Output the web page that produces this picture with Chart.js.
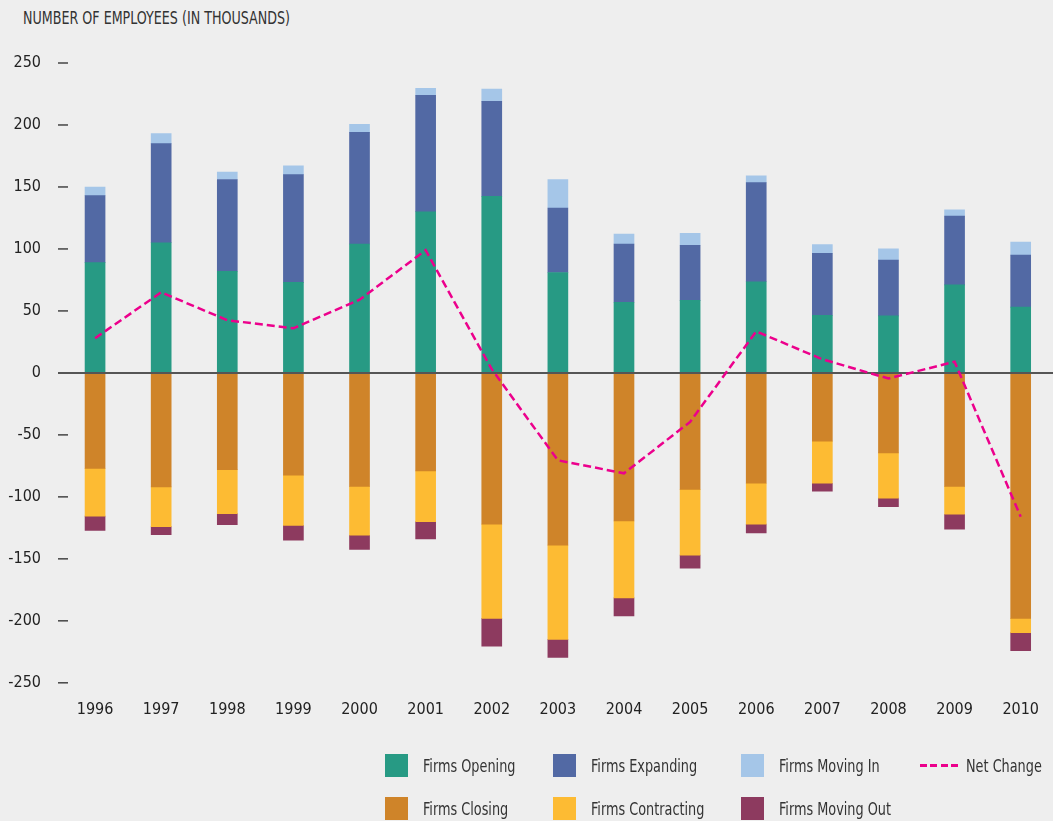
<!DOCTYPE html>
<html>
<head>
<meta charset="utf-8">
<script src="https://cdn.jsdelivr.net/npm/chart.js@4/dist/chart.umd.min.js"></script>
<style>
  html, body { margin: 0; padding: 0; background: #eeeeee; overflow: hidden; }
  body { width: 1053px; height: 821px; position: relative; font-family: "DejaVu Sans Condensed", "Liberation Sans", sans-serif; color: #333; }
  #title { position: absolute; left: 23px; top: 7px; font-size: 17px; line-height: 22px; color: #333; white-space: nowrap; transform: scaleX(0.83); transform-origin: left center; }
  #wrap { position: absolute; left: 0; top: 0; width: 1056px; height: 821px; }
  #legend { position: absolute; left: 385px; top: 744px; display: grid; grid-template-columns: 168px 188px 179px auto; grid-auto-rows: 43px; font-size: 17px; color: #333; }
  .item { display: flex; align-items: center; white-space: nowrap; }
  .item span.txt { display: inline-block; transform: scaleX(0.84); transform-origin: left center; }
  .box { width: 23px; height: 23px; margin-right: 15px; flex: none; }
  .dash { width: 38px; height: 3px; margin-right: 8px; flex: none; }
</style>
</head>
<body>
<div id="title">NUMBER OF EMPLOYEES (IN THOUSANDS)</div>
<div id="wrap"><canvas id="myChart"></canvas></div>
<div id="legend"></div>
<script>
// values in thousands
var years = ["1996", "1997", "1998", "1999", "2000", "2001", "2002", "2003", "2004", "2005", "2006", "2007", "2008", "2009", "2010"];
var opening = [89, 105, 82, 73, 104, 130, 142.5, 81, 57, 58.5, 73.5, 46.5, 46, 71, 53];
var expanding = [54, 80, 74, 87, 90, 94, 76.5, 52, 47, 44.5, 80, 50, 45, 55.5, 42];
var movingIn = [7, 8, 6, 7, 6.5, 5.5, 10, 23, 8, 9.5, 5.5, 7, 9, 5, 10.5];
var closing = [-77, -92, -78, -82.5, -91.5, -79, -122, -139, -119.5, -94, -89, -55, -64.5, -91.5, -198];
var contracting = [-38.5, -32, -35.5, -40.5, -39.5, -41, -76, -76, -62, -53, -33, -34, -36.5, -22.5, -11.5];
var movingOut = [-11.5, -6.5, -9, -12, -11.5, -14, -22.5, -14.5, -14.5, -10.5, -7, -6.5, -7, -12, -14.5];
var netChange = [28, 65, 42.5, 36, 59, 99, 3, -70.5, -81, -39.5, 33.5, 11, -4.5, 9, -116];
var yTicks = [-250, -200, -150, -100, -50, 0, 50, 100, 150, 200, 250];

var font = "'DejaVu Sans Condensed', 'Liberation Sans', sans-serif";

function bar(label, data, color) {
  return { type: 'bar', label: label, data: data, backgroundColor: color, barThickness: 20, order: 1 };
}

var datasets = [
  bar("Firms Opening", opening, "#279a84"),
  bar("Firms Expanding", expanding, "#5269a4"),
  bar("Firms Moving In", movingIn, "#a5c6e8"),
  bar("Firms Closing", closing, "#cf8429"),
  bar("Firms Contracting", contracting, "#fdbb33"),
  bar("Firms Moving Out", movingOut, "#8d3a5f"),
  {
    type: 'line', label: "Net Change", data: netChange, stack: 'net',
    borderColor: "#ec008c", borderWidth: 2.5, borderDash: [8, 4],
    pointRadius: 0, tension: 0, fill: false, order: 0
  }
];

// zero line under the net line, and the small dashes next to the y labels
var axisBits = {
  id: 'axisBits',
  beforeDatasetDraw: function(chart, args) {
    if (args.meta.type !== 'line') return;
    var ctx = chart.ctx, y = chart.scales.y, area = chart.chartArea;
    var y0 = y.getPixelForValue(0);
    ctx.save();
    ctx.strokeStyle = '#555';
    ctx.lineWidth = 2;
    ctx.beginPath();
    ctx.moveTo(area.left - 4, y0);
    ctx.lineTo(area.right, y0);
    ctx.stroke();
    ctx.lineWidth = 1.5;
    ctx.strokeStyle = '#444';
    yTicks.forEach(function(v) {
      if (v === 0) return;
      var py = y.getPixelForValue(v);
      ctx.beginPath();
      ctx.moveTo(area.left - 4, py);
      ctx.lineTo(area.left + 6, py);
      ctx.stroke();
    });
    ctx.restore();
  }
};

var ctx = document.getElementById('myChart').getContext('2d');

var chart = new Chart(ctx, {
  data: { labels: years, datasets: datasets },
  options: {
    responsive: true,
    maintainAspectRatio: false,
    animation: false,
    layout: { padding: { top: 63, bottom: 85, left: 0, right: 0 } },
    plugins: { legend: { display: false }, tooltip: { enabled: false }, title: { display: false } },
    scales: {
      x: {
        stacked: true,
        grid: { display: false, drawTicks: false },
        border: { display: false },
        ticks: { color: '#222', font: { family: font, size: 16 }, padding: 17, maxRotation: 0 }
      },
      y: {
        stacked: true,
        min: -250, max: 250,
        afterFit: function(scale) { scale.width = 62; },
        afterBuildTicks: function(scale) { scale.ticks = yTicks.map(function(v) { return { value: v }; }); },
        grid: { display: false, drawTicks: false },
        border: { display: false },
        ticks: { color: '#222', font: { family: font, size: 16 }, padding: 21 }
      }
    }
  },
  plugins: [axisBits]
});

// legend built from the datasets, two rows like the original
var legendOrder = [0, 1, 2, 6, 3, 4, 5];
var legend = document.getElementById('legend');
legendOrder.forEach(function(i) {
  var ds = datasets[i];
  var item = document.createElement('div');
  item.className = 'item';
  var mark = document.createElement('span');
  if (ds.type === 'line') {
    mark.className = 'dash';
    mark.style.background = 'repeating-linear-gradient(to right, ' + ds.borderColor + ' 0 7px, transparent 7px 10.5px)';
  } else {
    mark.className = 'box';
    mark.style.background = ds.backgroundColor;
  }
  var txt = document.createElement('span');
  txt.className = 'txt';
  txt.textContent = ds.label;
  item.appendChild(mark);
  item.appendChild(txt);
  legend.appendChild(item);
});
</script>
</body>
</html>
